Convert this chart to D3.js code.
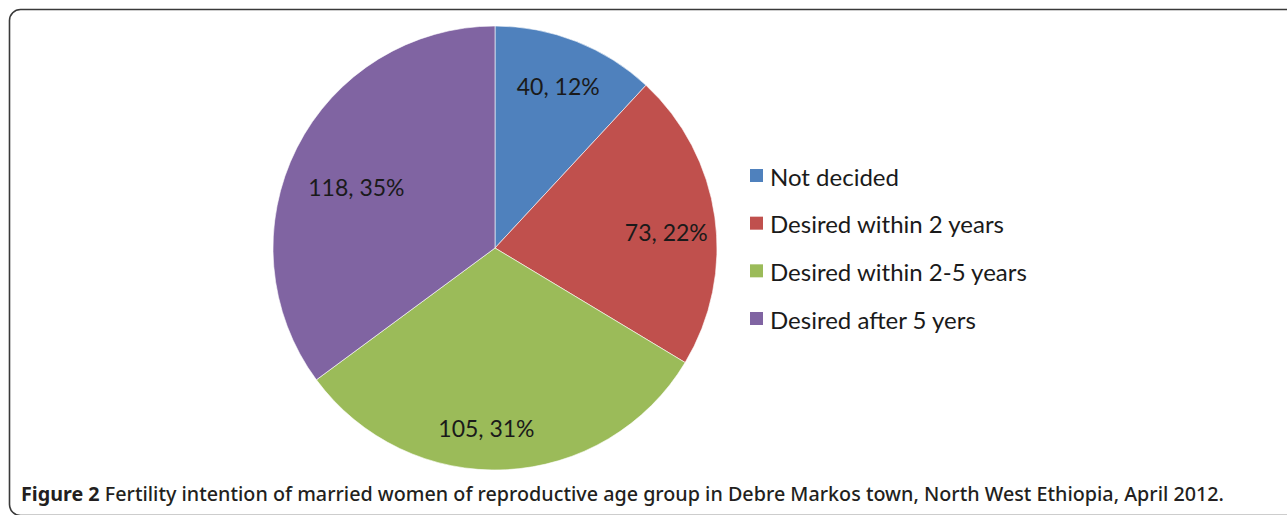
<!DOCTYPE html>
<html><head><meta charset="utf-8">
<script src="https://cdn.jsdelivr.net/npm/d3@7"></script>
<style>body{margin:0;background:#fff}svg{display:block}</style>
</head><body>
<svg id="c" width="1287" height="515"></svg>
<script>
const categories = ["Not decided","Desired within 2 years","Desired within 2-5 years","Desired after 5 yers"];
const values = [40, 73, 105, 118];
const percents = ["12%","22%","31%","35%"];
const colors = ["#4F81BD","#C0504D","#9BBB59","#8064A2"];
const captionBold = "Figure 2";
const captionText = " Fertility intention of married women of reproductive age group in Debre Markos town, North West Ethiopia, April 2012.";

const svg = d3.select("#c");
svg.append("rect").attr("x",9.5).attr("y",9.5).attr("width",1320).attr("height",506).attr("rx",11)
  .attr("fill","none").attr("stroke","#3a3a3a").attr("stroke-width",1.6);

const cx = 495, cy = 248, R = 222;
const g = svg.append("g").attr("transform",`translate(${cx},${cy})`);
const pie = d3.pie().sort(null).value(d=>d);
const arcs = pie(values);
const arc = d3.arc().innerRadius(0).outerRadius(R);
g.selectAll("path").data(arcs).join("path").attr("d",arc)
  .attr("fill",(d,i)=>colors[i]).attr("stroke","#fff").attr("stroke-width",0.6);

const labelR = [173, 171, 180, 162];
const nudge = [[0,-1],[2,8],[-17,0],[6,12]];
g.selectAll("text.lbl").data(arcs).join("text").attr("class","lbl")
  .attr("transform",(d,i)=>{
    const a=(d.startAngle+d.endAngle)/2;
    return `translate(${Math.sin(a)*labelR[i]+nudge[i][0]},${-Math.cos(a)*labelR[i]+nudge[i][1]})`;
  })
  .attr("text-anchor","middle").attr("dominant-baseline","central")
  .attr("font-family","Lato, 'Open Sans', sans-serif").attr("font-size",23).attr("fill","#1a1a1a")
  .text((d,i)=>`${values[i]}, ${percents[i]}`);

const lg = svg.append("g");
const ly = d3.scalePoint().domain(categories).range([176,319]);
categories.forEach((c,i)=>{
  lg.append("rect").attr("x",750).attr("y",ly(c)-7).attr("width",13).attr("height",13).attr("fill",colors[i]);
  lg.append("text").attr("x",770).attr("y",ly(c)).attr("dominant-baseline","central")
    .attr("font-family","Lato, 'Open Sans', sans-serif").attr("font-size",24).attr("fill","#1a1a1a").text(c);
});

const cap = svg.append("text").attr("x",21).attr("y",501)
  .attr("font-family","'Noto Sans', 'Open Sans', sans-serif").attr("font-size",20).attr("fill","#231f20");
cap.append("tspan").attr("font-weight","bold").text(captionBold);
cap.append("tspan").attr("font-weight","500").text(captionText);
cap.attr("textLength",1203).attr("lengthAdjust","spacingAndGlyphs");
</script>
</body></html>
